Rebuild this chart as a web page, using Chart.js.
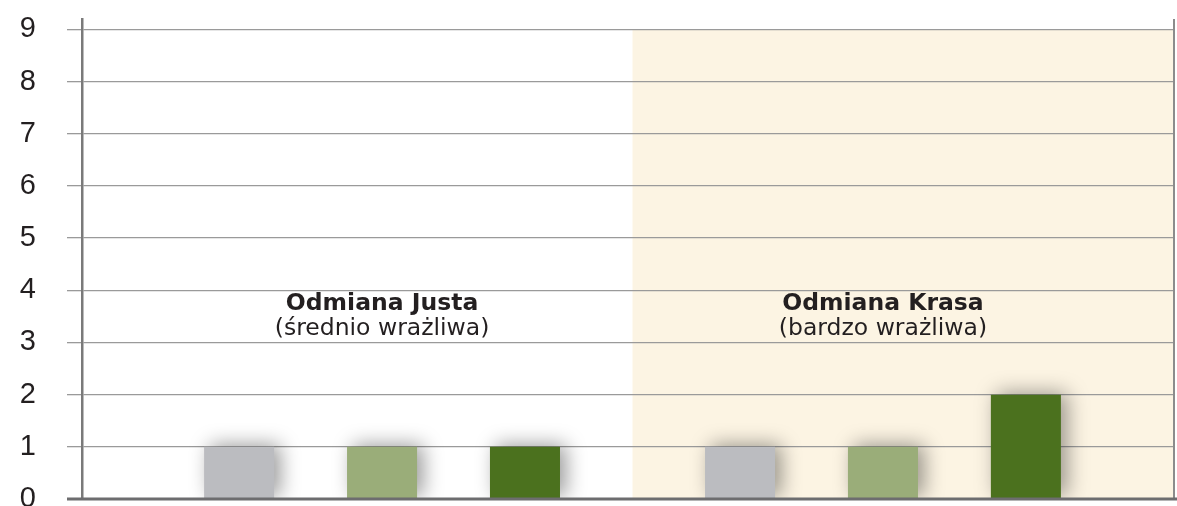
<!DOCTYPE html>
<html>
<head>
<meta charset="utf-8">
<script src="https://cdn.jsdelivr.net/npm/chart.js@4/dist/chart.umd.min.js"></script>
<style>
    html, body { margin: 0; padding: 0; background: #ffffff; overflow: hidden; }
    #wrap { position: relative; width: 1177px; height: 506px; }
</style>
</head>
<body>
<div id="wrap"><canvas id="chart"></canvas></div>
<script>
// Data
var categories = ['Odmiana Justa', 'Odmiana Krasa'];
var subtitles = ['(średnio wrażliwa)', '(bardzo wrażliwa)'];
var seriesNames = ['Seria 1', 'Seria 2', 'Seria 3'];
var seriesGray = [1, 1];
var seriesLightGreen = [1, 1];
var seriesDarkGreen = [1, 2];
var yTicks = [0, 1, 2, 3, 4, 5, 6, 7, 8, 9];

var FONT = '"DejaVu Sans", "Liberation Sans", Arial, sans-serif';
var TICK_FONT = '"Liberation Sans", Arial, sans-serif';

function points(values) {
    return values.map(function(v, i) { return { x: i, y: v }; });
}

// cream panel behind the second variety, group captions, bar shadows, frame lines
var decorPlugin = {
    id: 'decor',
    beforeDraw: function(chart) {
        var ctx = chart.ctx, area = chart.chartArea;
        var x = chart.scales.x, y = chart.scales.y;
        var left = x.getPixelForValue(0.5);
        var top = y.getPixelForValue(yTicks[yTicks.length - 1]);
        ctx.save();
        ctx.fillStyle = '#fcf4e3';
        ctx.fillRect(left, top, area.right - left, area.bottom - top);
        ctx.restore();
    },
    beforeDatasetsDraw: function(chart) {
        var ctx = chart.ctx;
        var x = chart.scales.x, y = chart.scales.y;
        ctx.save();
        ctx.fillStyle = '#231f20';
        ctx.textAlign = 'center';
        ctx.textBaseline = 'alphabetic';
        categories.forEach(function(name, i) {
            var cx = x.getPixelForValue(i);
            ctx.font = 'bold 23.5px ' + FONT;
            ctx.fillText(name, cx, y.getPixelForValue(3.615));
            ctx.font = '23.5px ' + FONT;
            ctx.fillText(subtitles[i], cx, y.getPixelForValue(3.14));
        });
        ctx.restore();

        ctx.save();
        ctx.shadowColor = 'rgba(0, 0, 0, 0.4)';
        ctx.shadowBlur = 20;
        ctx.shadowOffsetX = 6;
        ctx.shadowOffsetY = -2;
    },
    afterDatasetsDraw: function(chart) {
        var ctx = chart.ctx, area = chart.chartArea;
        ctx.restore();
        ctx.save();
        // right frame line
        ctx.strokeStyle = '#8c8c8c';
        ctx.lineWidth = 2;
        ctx.beginPath();
        ctx.moveTo(area.right, area.top);
        ctx.lineTo(area.right, area.bottom);
        ctx.stroke();
        // bottom axis line
        ctx.strokeStyle = '#6d6d6f';
        ctx.lineWidth = 3;
        ctx.beginPath();
        ctx.moveTo(area.left - 15, area.bottom);
        ctx.lineTo(chart.width, area.bottom);
        ctx.stroke();
        ctx.restore();
    }
};

var ctx = document.getElementById('chart').getContext('2d');
new Chart(ctx, {
    type: 'bar',
    data: {
        datasets: [{
            label: seriesNames[0],
            data: points(seriesGray),
            backgroundColor: '#bbbcc0'
        }, {
            label: seriesNames[1],
            data: points(seriesLightGreen),
            backgroundColor: '#9aad79'
        }, {
            label: seriesNames[2],
            data: points(seriesDarkGreen),
            backgroundColor: '#4b711e'
        }]
    },
    options: {
        responsive: true,
        maintainAspectRatio: false,
        animation: false,
        categoryPercentage: 0.856,
        barPercentage: 0.49,
        clip: { left: false, right: false, top: false, bottom: 0 },
        layout: {
            padding: { top: 19, bottom: 7, left: 0, right: 3 }
        },
        plugins: {
            legend: { display: false },
            tooltip: { enabled: false }
        },
        scales: {
            x: {
                type: 'linear',
                display: false,
                offset: false,
                min: -0.599,
                max: 1.581,
                afterBuildTicks: function(scale) {
                    scale.ticks = categories.map(function(c, i) { return { value: i }; });
                }
            },
            y: {
                min: 0,
                max: 9.2,
                ticks: {
                    stepSize: 1,
                    padding: 31,
                    color: '#231f20',
                    font: { family: TICK_FONT, size: 29 }
                },
                afterBuildTicks: function(scale) {
                    scale.ticks = yTicks.map(function(v) { return { value: v }; });
                },
                afterFit: function(scale) {
                    scale.width = 82;
                    scale.paddingTop = 0;
                    scale.paddingBottom = 0;
                },
                grid: {
                    color: '#9a9a9a',
                    lineWidth: 1.3,
                    tickLength: 15
                },
                border: {
                    color: '#7a7a7a',
                    width: 2.5
                }
            }
        }
    },
    plugins: [decorPlugin]
});
</script>
</body>
</html>
